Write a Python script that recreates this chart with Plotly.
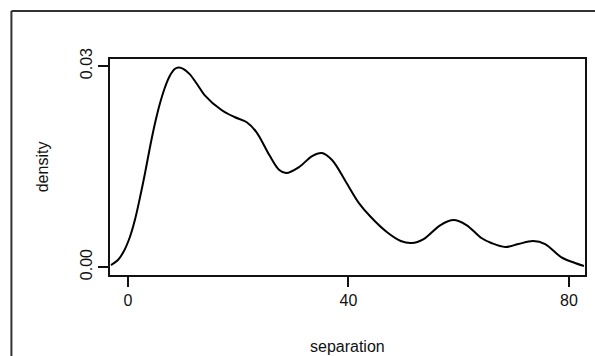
import plotly.graph_objects as go

separation = [-3.07, -1.81, -0.72, 0.36, 1.26, 2.17, 3.07, 3.97, 4.88, 5.78, 6.68, 7.58, 8.49,
              9.21, 10.11, 11.2, 12.5, 13.9, 16.97, 19.32, 21.49, 23.3, 25.64, 27.45, 28.71,
              31.06, 33.41, 35.21, 37.02, 39.55, 41.9, 44.06, 46.95, 49.48, 51.47, 53.63, 56.7,
              59.05, 61.4, 64.11, 65.91, 68.44, 70.79, 73.5, 75.67, 78.56, 81.08, 82.71]
density = [0.0003, 0.00104, 0.00239, 0.00448, 0.00701, 0.0103, 0.01388, 0.01776, 0.02134, 0.02433,
           0.02672, 0.02851, 0.02955, 0.02978, 0.02955, 0.0288, 0.02735, 0.02567, 0.02343, 0.02239,
           0.02164, 0.02015, 0.01672, 0.01448, 0.01403, 0.01493, 0.01657, 0.01701, 0.01597, 0.01269,
           0.00955, 0.00746, 0.00522, 0.00388, 0.00358, 0.00418, 0.00627, 0.00701, 0.00627, 0.00433,
           0.00358, 0.00299, 0.00343, 0.00388, 0.00343, 0.00149, 0.0006, 0.00015]

x_ticks = [0, 40, 80]
y_ticks = [0.0, 0.03]
y_tick_labels = ["0.00", "0.03"]

W, H = 595, 356
L, R, T, B = 110, 8, 59, 81
pw, ph = W - L - R, H - T - B

def px(xp):
    return (xp - L) / pw

def py(yp):
    return (H - B - yp) / ph

fig = go.Figure()
fig.add_trace(go.Scatter(x=separation, y=density, mode="lines",
                         line=dict(color="black", width=2, shape="spline", smoothing=1.0),
                         showlegend=False, hoverinfo="skip"))

font = dict(family="Liberation Sans, Arial, sans-serif", size=16, color="#111")

fig.update_layout(
    width=W, height=H,
    margin=dict(l=L, r=R, t=T, b=B),
    paper_bgcolor="white", plot_bgcolor="white",
    font=font,
    xaxis=dict(range=[-3.25, 82.9], tickvals=x_ticks, ticktext=[str(v) for v in x_ticks],
               showgrid=False, zeroline=False, showline=True, mirror=True,
               linecolor="#111", linewidth=2, ticks="outside", ticklen=10, tickwidth=2,
               tickcolor="#111", tickfont=font),
    yaxis=dict(range=[-0.00119, 0.03105], tickvals=y_ticks, ticktext=y_tick_labels,
               showgrid=False, zeroline=False, showline=True, mirror=True,
               linecolor="#111", linewidth=2, ticks="outside", ticklen=10, tickwidth=2,
               tickcolor="#111", tickangle=-90, tickfont=font),
    annotations=[
        dict(text="separation", xref="paper", yref="paper", x=0.5, y=py(346),
             xanchor="center", yanchor="middle", showarrow=False, font=font),
        dict(text="density", xref="paper", yref="paper", x=px(42), y=0.5,
             xanchor="center", yanchor="middle", textangle=-90, showarrow=False, font=font),
    ],
    shapes=[
        dict(type="line", xref="paper", yref="paper", x0=px(11), x1=px(W + 5), y0=py(11), y1=py(11),
             line=dict(color="#333", width=2)),
        dict(type="line", xref="paper", yref="paper", x0=px(11), x1=px(11), y0=py(11), y1=py(H + 5),
             line=dict(color="#333", width=2)),
    ],
)

fig.write_html("out.html", config={"displayModeBar": False},
               post_script="document.body.style.margin='0';document.body.style.overflow='hidden';")
